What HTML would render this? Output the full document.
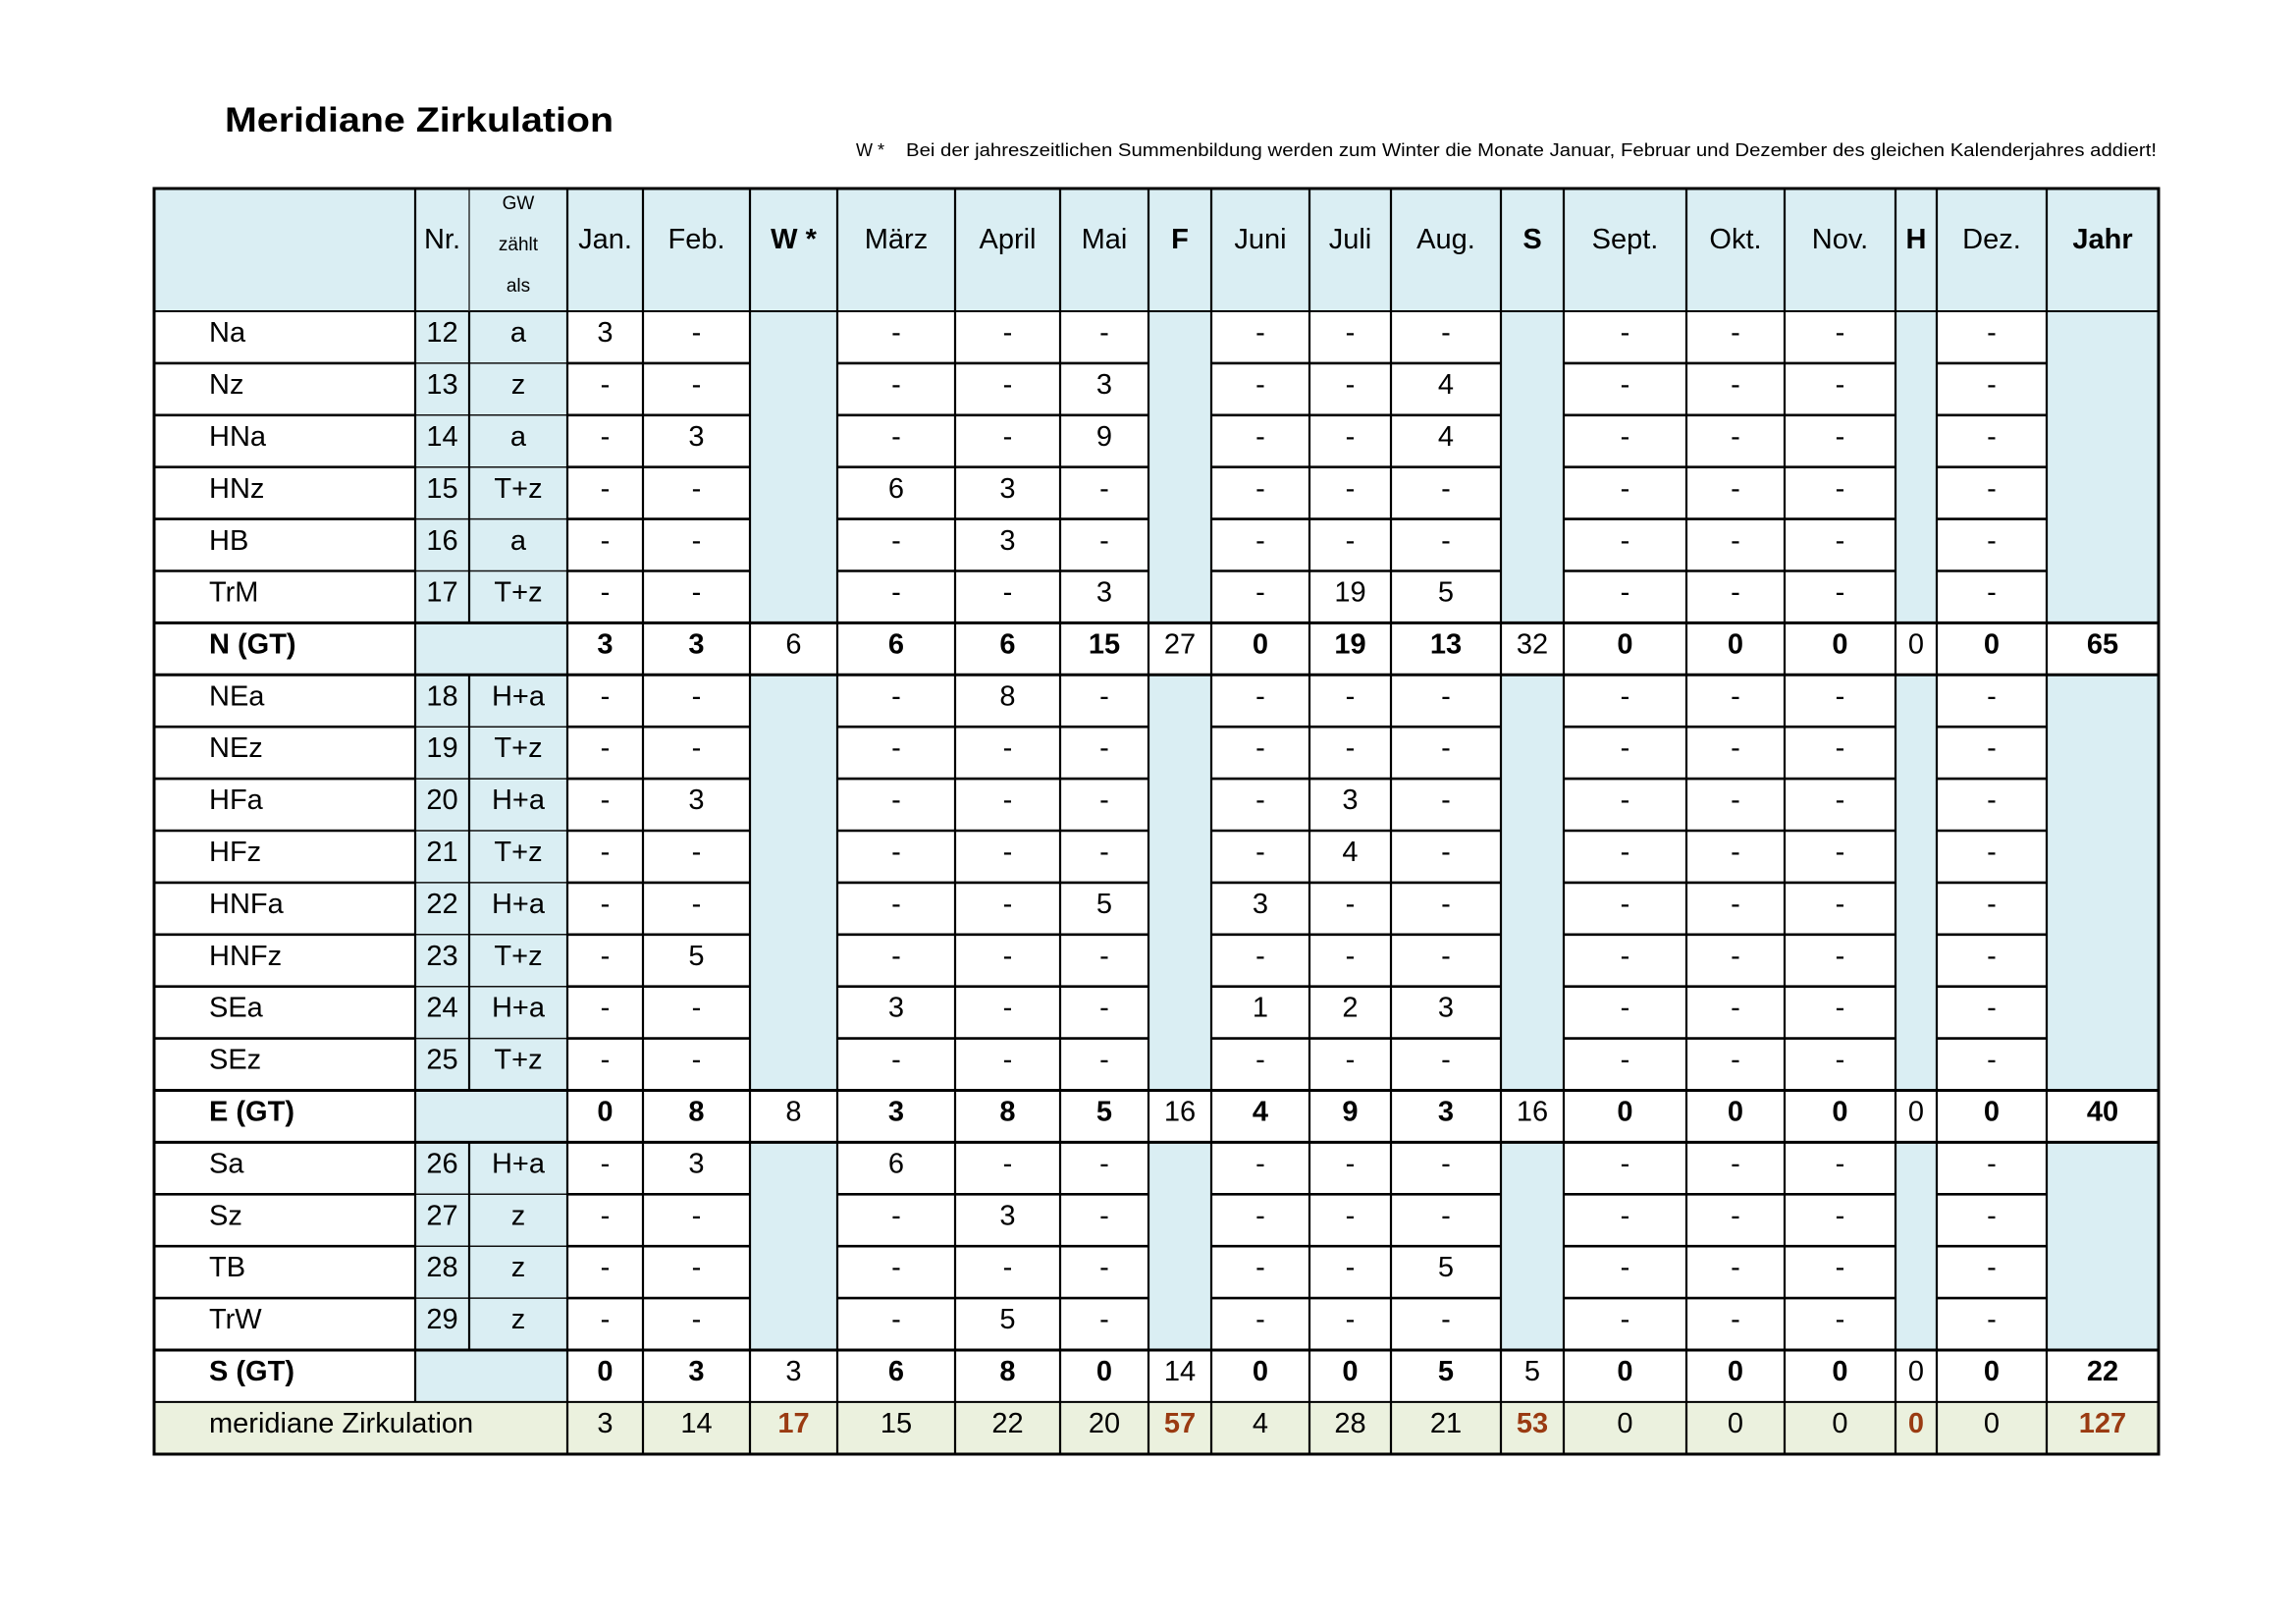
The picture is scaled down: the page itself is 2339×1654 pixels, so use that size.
<!DOCTYPE html>
<html>
<head>
<meta charset="utf-8">
<style>
html,body{margin:0;padding:0;background:#fff;}
svg{display:block;}
text{font-family:"Liberation Sans",Arial,sans-serif;fill:#000;}
.c{text-anchor:middle;font-size:29px;}
.l{text-anchor:start;}
.b{font-weight:bold;}
.r{fill:#9a3b12;font-weight:bold;}
</style>
</head>
<body>
<svg width="2339" height="1654" viewBox="0 0 2339 1654" xmlns="http://www.w3.org/2000/svg">
<rect x="0" y="0" width="2339" height="1654" fill="#fff"/>

<!-- Title & note -->
<text x="229" y="134" font-size="35" font-weight="bold" textLength="396" lengthAdjust="spacingAndGlyphs">Meridiane Zirkulation</text>
<text x="872" y="159" font-size="18">W *</text>
<text x="923" y="159" font-size="18" textLength="1274" lengthAdjust="spacingAndGlyphs">Bei der jahreszeitlichen Summenbildung werden zum Winter die Monate Januar, Februar und Dezember des gleichen Kalenderjahres addiert!</text>

<!-- Backgrounds -->
<g fill="#DAEEF3">
<rect x="157" y="192" width="2042" height="125"/>
<rect x="423" y="317" width="155" height="1111"/>
<rect x="764" y="317" width="89" height="317.4"/>
<rect x="1170" y="317" width="64" height="317.4"/>
<rect x="1529" y="317" width="64" height="317.4"/>
<rect x="1931" y="317" width="42" height="317.4"/>
<rect x="2085" y="317" width="114" height="317.4"/>
<rect x="764" y="687.3" width="89" height="423.2"/>
<rect x="1170" y="687.3" width="64" height="423.2"/>
<rect x="1529" y="687.3" width="64" height="423.2"/>
<rect x="1931" y="687.3" width="42" height="423.2"/>
<rect x="2085" y="687.3" width="114" height="423.2"/>
<rect x="764" y="1163.4" width="89" height="211.6"/>
<rect x="1170" y="1163.4" width="64" height="211.6"/>
<rect x="1529" y="1163.4" width="64" height="211.6"/>
<rect x="1931" y="1163.4" width="42" height="211.6"/>
<rect x="2085" y="1163.4" width="114" height="211.6"/>
</g>
<rect x="157" y="1427.9" width="2042" height="53" fill="#EBF1DE"/>

<!-- In-group horizontal thick lines -->
<path fill="none" stroke="#000" stroke-width="2.6" d="
M157 369.9H423M578 369.9H764M853 369.9H1170M1234 369.9H1529M1593 369.9H1931M1973 369.9H2085
M157 422.8H423M578 422.8H764M853 422.8H1170M1234 422.8H1529M1593 422.8H1931M1973 422.8H2085
M157 475.7H423M578 475.7H764M853 475.7H1170M1234 475.7H1529M1593 475.7H1931M1973 475.7H2085
M157 528.6H423M578 528.6H764M853 528.6H1170M1234 528.6H1529M1593 528.6H1931M1973 528.6H2085
M157 581.5H423M578 581.5H764M853 581.5H1170M1234 581.5H1529M1593 581.5H1931M1973 581.5H2085
M157 740.2H423M578 740.2H764M853 740.2H1170M1234 740.2H1529M1593 740.2H1931M1973 740.2H2085
M157 793.1H423M578 793.1H764M853 793.1H1170M1234 793.1H1529M1593 793.1H1931M1973 793.1H2085
M157 846H423M578 846H764M853 846H1170M1234 846H1529M1593 846H1931M1973 846H2085
M157 898.9H423M578 898.9H764M853 898.9H1170M1234 898.9H1529M1593 898.9H1931M1973 898.9H2085
M157 951.8H423M578 951.8H764M853 951.8H1170M1234 951.8H1529M1593 951.8H1931M1973 951.8H2085
M157 1004.7H423M578 1004.7H764M853 1004.7H1170M1234 1004.7H1529M1593 1004.7H1931M1973 1004.7H2085
M157 1057.6H423M578 1057.6H764M853 1057.6H1170M1234 1057.6H1529M1593 1057.6H1931M1973 1057.6H2085
M157 1216.3H423M578 1216.3H764M853 1216.3H1170M1234 1216.3H1529M1593 1216.3H1931M1973 1216.3H2085
M157 1269.2H423M578 1269.2H764M853 1269.2H1170M1234 1269.2H1529M1593 1269.2H1931M1973 1269.2H2085
M157 1322.1H423M578 1322.1H764M853 1322.1H1170M1234 1322.1H1529M1593 1322.1H1931M1973 1322.1H2085
"/>
<!-- thin Nr/GW horizontal lines -->
<path fill="none" stroke="#111" stroke-width="1.5" d="
M423 369.9H578M423 422.8H578M423 475.7H578M423 528.6H578M423 581.5H578
M423 740.2H578M423 793.1H578M423 846H578M423 898.9H578M423 951.8H578M423 1004.7H578M423 1057.6H578
M423 1216.3H578M423 1269.2H578M423 1322.1H578"/>
<!-- Full-width group borders -->
<path fill="none" stroke="#000" stroke-width="3" d="M157 634.4H2199M157 687.3H2199M157 1110.5H2199M157 1163.4H2199M157 1375H2199"/>
<path fill="none" stroke="#000" stroke-width="2" d="M157 317H2199M157 1427.9H2199"/>

<!-- Vertical lines -->
<path fill="none" stroke="#000" stroke-width="2.2" d="
M423 192V1428
M478 317V634.4M478 687.3V1110.5M478 1163.4V1375
M578 192V1481M655 192V1481M764 192V1481M853 192V1481M973 192V1481M1080 192V1481
M1170 192V1481M1234 192V1481M1334 192V1481M1417 192V1481M1529 192V1481M1593 192V1481
M1718 192V1481M1818 192V1481M1931 192V1481M1973 192V1481M2085 192V1481"/>
<path fill="none" stroke="#333" stroke-width="1.5" d="M478 192V317"/>
<rect x="157" y="192" width="2042" height="1289" fill="none" stroke="#000" stroke-width="3"/>

<!-- Header -->
<g class="c">
<text x="450.5" y="253">Nr.</text>
<text x="528" y="213" font-size="19">GW</text>
<text x="528" y="255" font-size="19">zählt</text>
<text x="528" y="297" font-size="19">als</text>
<text x="616.5" y="253">Jan.</text>
<text x="709.5" y="253">Feb.</text>
<text x="808.5" y="253" class="b">W *</text>
<text x="913" y="253">März</text>
<text x="1026.5" y="253">April</text>
<text x="1125" y="253">Mai</text>
<text x="1202" y="253" class="b">F</text>
<text x="1284" y="253">Juni</text>
<text x="1375.5" y="253">Juli</text>
<text x="1473" y="253">Aug.</text>
<text x="1561" y="253" class="b">S</text>
<text x="1655.5" y="253">Sept.</text>
<text x="1768" y="253">Okt.</text>
<text x="1874.5" y="253">Nov.</text>
<text x="1952" y="253" class="b">H</text>
<text x="2029" y="253">Dez.</text>
<text x="2142" y="253" class="b">Jahr</text>
</g>

<!-- Data rows -->
<g class="c">
<g transform="translate(0,348)"><text x="213" class="l">Na</text><text x="450.5">12</text><text x="528">a</text><text x="616.5">3</text><text x="709.5">-</text><text x="913">-</text><text x="1026.5">-</text><text x="1125">-</text><text x="1284">-</text><text x="1375.5">-</text><text x="1473">-</text><text x="1655.5">-</text><text x="1768">-</text><text x="1874.5">-</text><text x="2029">-</text></g>
<g transform="translate(0,401)"><text x="213" class="l">Nz</text><text x="450.5">13</text><text x="528">z</text><text x="616.5">-</text><text x="709.5">-</text><text x="913">-</text><text x="1026.5">-</text><text x="1125">3</text><text x="1284">-</text><text x="1375.5">-</text><text x="1473">4</text><text x="1655.5">-</text><text x="1768">-</text><text x="1874.5">-</text><text x="2029">-</text></g>
<g transform="translate(0,454)"><text x="213" class="l">HNa</text><text x="450.5">14</text><text x="528">a</text><text x="616.5">-</text><text x="709.5">3</text><text x="913">-</text><text x="1026.5">-</text><text x="1125">9</text><text x="1284">-</text><text x="1375.5">-</text><text x="1473">4</text><text x="1655.5">-</text><text x="1768">-</text><text x="1874.5">-</text><text x="2029">-</text></g>
<g transform="translate(0,507)"><text x="213" class="l">HNz</text><text x="450.5">15</text><text x="528">T+z</text><text x="616.5">-</text><text x="709.5">-</text><text x="913">6</text><text x="1026.5">3</text><text x="1125">-</text><text x="1284">-</text><text x="1375.5">-</text><text x="1473">-</text><text x="1655.5">-</text><text x="1768">-</text><text x="1874.5">-</text><text x="2029">-</text></g>
<g transform="translate(0,560)"><text x="213" class="l">HB</text><text x="450.5">16</text><text x="528">a</text><text x="616.5">-</text><text x="709.5">-</text><text x="913">-</text><text x="1026.5">3</text><text x="1125">-</text><text x="1284">-</text><text x="1375.5">-</text><text x="1473">-</text><text x="1655.5">-</text><text x="1768">-</text><text x="1874.5">-</text><text x="2029">-</text></g>
<g transform="translate(0,612.5)"><text x="213" class="l">TrM</text><text x="450.5">17</text><text x="528">T+z</text><text x="616.5">-</text><text x="709.5">-</text><text x="913">-</text><text x="1026.5">-</text><text x="1125">3</text><text x="1284">-</text><text x="1375.5">19</text><text x="1473">5</text><text x="1655.5">-</text><text x="1768">-</text><text x="1874.5">-</text><text x="2029">-</text></g>
<g transform="translate(0,665.4)"><text x="213" class="l b">N (GT)</text><text x="616.5" class="b">3</text><text x="709.5" class="b">3</text><text x="808.5">6</text><text x="913" class="b">6</text><text x="1026.5" class="b">6</text><text x="1125" class="b">15</text><text x="1202">27</text><text x="1284" class="b">0</text><text x="1375.5" class="b">19</text><text x="1473" class="b">13</text><text x="1561">32</text><text x="1655.5" class="b">0</text><text x="1768" class="b">0</text><text x="1874.5" class="b">0</text><text x="1952">0</text><text x="2029" class="b">0</text><text x="2142" class="b">65</text></g>
<g transform="translate(0,718.3)"><text x="213" class="l">NEa</text><text x="450.5">18</text><text x="528">H+a</text><text x="616.5">-</text><text x="709.5">-</text><text x="913">-</text><text x="1026.5">8</text><text x="1125">-</text><text x="1284">-</text><text x="1375.5">-</text><text x="1473">-</text><text x="1655.5">-</text><text x="1768">-</text><text x="1874.5">-</text><text x="2029">-</text></g>
<g transform="translate(0,771.2)"><text x="213" class="l">NEz</text><text x="450.5">19</text><text x="528">T+z</text><text x="616.5">-</text><text x="709.5">-</text><text x="913">-</text><text x="1026.5">-</text><text x="1125">-</text><text x="1284">-</text><text x="1375.5">-</text><text x="1473">-</text><text x="1655.5">-</text><text x="1768">-</text><text x="1874.5">-</text><text x="2029">-</text></g>
<g transform="translate(0,824.1)"><text x="213" class="l">HFa</text><text x="450.5">20</text><text x="528">H+a</text><text x="616.5">-</text><text x="709.5">3</text><text x="913">-</text><text x="1026.5">-</text><text x="1125">-</text><text x="1284">-</text><text x="1375.5">3</text><text x="1473">-</text><text x="1655.5">-</text><text x="1768">-</text><text x="1874.5">-</text><text x="2029">-</text></g>
<g transform="translate(0,877)"><text x="213" class="l">HFz</text><text x="450.5">21</text><text x="528">T+z</text><text x="616.5">-</text><text x="709.5">-</text><text x="913">-</text><text x="1026.5">-</text><text x="1125">-</text><text x="1284">-</text><text x="1375.5">4</text><text x="1473">-</text><text x="1655.5">-</text><text x="1768">-</text><text x="1874.5">-</text><text x="2029">-</text></g>
<g transform="translate(0,929.9)"><text x="213" class="l">HNFa</text><text x="450.5">22</text><text x="528">H+a</text><text x="616.5">-</text><text x="709.5">-</text><text x="913">-</text><text x="1026.5">-</text><text x="1125">5</text><text x="1284">3</text><text x="1375.5">-</text><text x="1473">-</text><text x="1655.5">-</text><text x="1768">-</text><text x="1874.5">-</text><text x="2029">-</text></g>
<g transform="translate(0,982.8)"><text x="213" class="l">HNFz</text><text x="450.5">23</text><text x="528">T+z</text><text x="616.5">-</text><text x="709.5">5</text><text x="913">-</text><text x="1026.5">-</text><text x="1125">-</text><text x="1284">-</text><text x="1375.5">-</text><text x="1473">-</text><text x="1655.5">-</text><text x="1768">-</text><text x="1874.5">-</text><text x="2029">-</text></g>
<g transform="translate(0,1035.7)"><text x="213" class="l">SEa</text><text x="450.5">24</text><text x="528">H+a</text><text x="616.5">-</text><text x="709.5">-</text><text x="913">3</text><text x="1026.5">-</text><text x="1125">-</text><text x="1284">1</text><text x="1375.5">2</text><text x="1473">3</text><text x="1655.5">-</text><text x="1768">-</text><text x="1874.5">-</text><text x="2029">-</text></g>
<g transform="translate(0,1088.6)"><text x="213" class="l">SEz</text><text x="450.5">25</text><text x="528">T+z</text><text x="616.5">-</text><text x="709.5">-</text><text x="913">-</text><text x="1026.5">-</text><text x="1125">-</text><text x="1284">-</text><text x="1375.5">-</text><text x="1473">-</text><text x="1655.5">-</text><text x="1768">-</text><text x="1874.5">-</text><text x="2029">-</text></g>
<g transform="translate(0,1141.5)"><text x="213" class="l b">E (GT)</text><text x="616.5" class="b">0</text><text x="709.5" class="b">8</text><text x="808.5">8</text><text x="913" class="b">3</text><text x="1026.5" class="b">8</text><text x="1125" class="b">5</text><text x="1202">16</text><text x="1284" class="b">4</text><text x="1375.5" class="b">9</text><text x="1473" class="b">3</text><text x="1561">16</text><text x="1655.5" class="b">0</text><text x="1768" class="b">0</text><text x="1874.5" class="b">0</text><text x="1952">0</text><text x="2029" class="b">0</text><text x="2142" class="b">40</text></g>
<g transform="translate(0,1194.4)"><text x="213" class="l">Sa</text><text x="450.5">26</text><text x="528">H+a</text><text x="616.5">-</text><text x="709.5">3</text><text x="913">6</text><text x="1026.5">-</text><text x="1125">-</text><text x="1284">-</text><text x="1375.5">-</text><text x="1473">-</text><text x="1655.5">-</text><text x="1768">-</text><text x="1874.5">-</text><text x="2029">-</text></g>
<g transform="translate(0,1247.3)"><text x="213" class="l">Sz</text><text x="450.5">27</text><text x="528">z</text><text x="616.5">-</text><text x="709.5">-</text><text x="913">-</text><text x="1026.5">3</text><text x="1125">-</text><text x="1284">-</text><text x="1375.5">-</text><text x="1473">-</text><text x="1655.5">-</text><text x="1768">-</text><text x="1874.5">-</text><text x="2029">-</text></g>
<g transform="translate(0,1300.2)"><text x="213" class="l">TB</text><text x="450.5">28</text><text x="528">z</text><text x="616.5">-</text><text x="709.5">-</text><text x="913">-</text><text x="1026.5">-</text><text x="1125">-</text><text x="1284">-</text><text x="1375.5">-</text><text x="1473">5</text><text x="1655.5">-</text><text x="1768">-</text><text x="1874.5">-</text><text x="2029">-</text></g>
<g transform="translate(0,1353.1)"><text x="213" class="l">TrW</text><text x="450.5">29</text><text x="528">z</text><text x="616.5">-</text><text x="709.5">-</text><text x="913">-</text><text x="1026.5">5</text><text x="1125">-</text><text x="1284">-</text><text x="1375.5">-</text><text x="1473">-</text><text x="1655.5">-</text><text x="1768">-</text><text x="1874.5">-</text><text x="2029">-</text></g>
<g transform="translate(0,1406)"><text x="213" class="l b">S (GT)</text><text x="616.5" class="b">0</text><text x="709.5" class="b">3</text><text x="808.5">3</text><text x="913" class="b">6</text><text x="1026.5" class="b">8</text><text x="1125" class="b">0</text><text x="1202">14</text><text x="1284" class="b">0</text><text x="1375.5" class="b">0</text><text x="1473" class="b">5</text><text x="1561">5</text><text x="1655.5" class="b">0</text><text x="1768" class="b">0</text><text x="1874.5" class="b">0</text><text x="1952">0</text><text x="2029" class="b">0</text><text x="2142" class="b">22</text></g>
<g transform="translate(0,1458.9)"><text x="213" class="l">meridiane Zirkulation</text><text x="616.5">3</text><text x="709.5">14</text><text x="808.5" class="r">17</text><text x="913">15</text><text x="1026.5">22</text><text x="1125">20</text><text x="1202" class="r">57</text><text x="1284">4</text><text x="1375.5">28</text><text x="1473">21</text><text x="1561" class="r">53</text><text x="1655.5">0</text><text x="1768">0</text><text x="1874.5">0</text><text x="1952" class="r">0</text><text x="2029">0</text><text x="2142" class="r">127</text></g>
</g>
</svg>
</body>
</html>
